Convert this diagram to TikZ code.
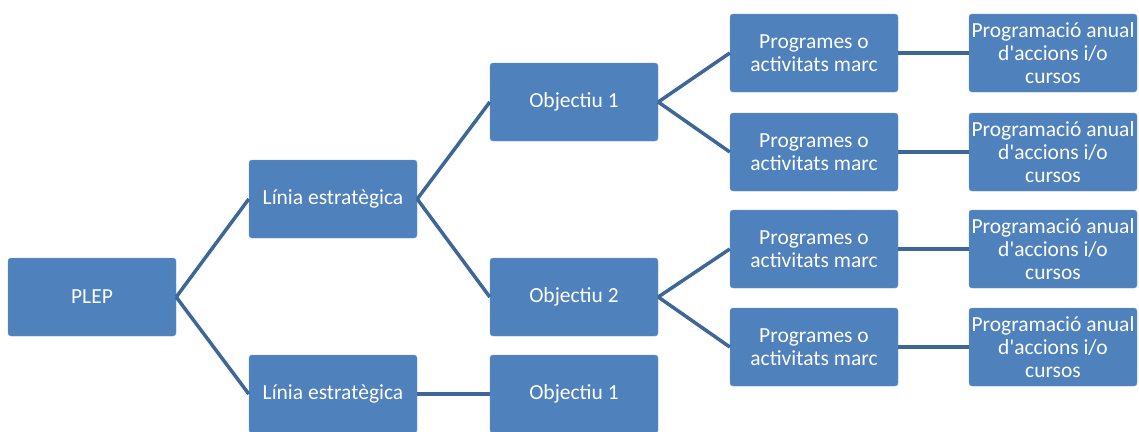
\documentclass[tikz,border=0pt]{standalone}
\usepackage{fontspec}
\setmainfont{Carlito}[Ligatures=TeXOff]
\definecolor{boxblue}{HTML}{4F81BD}
\definecolor{lineblue}{HTML}{3E6698}
\tikzset{
  box/.style = {rectangle, rounded corners = 3pt, fill = boxblue, draw = boxblue!85!white,
    text = white, minimum width = 168pt, minimum height = 78pt, align = center,
    font = \fontsize{21.5}{23}\selectfont, inner sep = 0pt},
  link/.style = {draw = lineblue, line width = 3.5pt}
}
\begin{document}
\begin{tikzpicture}[auto, x = 1pt, y = -1pt]
		\clip (0, 0) rectangle (1139, 431);
		%%%%%%%%%%%%%
		\node[box] (plep) at (92, 297) {PLEP};
		\node[box] (lin1) at (333, 199) {Línia estratègica};
		\node[box] (lin2) at (333, 394) {Línia estratègica};
		\node[box] (obj1) at (574, 102) {Objectiu 1};
		\node[box] (obj2) at (574, 297) {Objectiu 2};
		\node[box] (obj3) at (574, 394) {Objectiu 1};
		%%%%%%%%%%%%%
		\node[box] (prog1) at (814, 53) {Programes o\\activitats marc};
		\node[box] (prog2) at (814, 152) {Programes o\\activitats marc};
		\node[box] (prog3) at (814, 249) {Programes o\\activitats marc};
		\node[box] (prog4) at (814, 347) {Programes o\\activitats marc};
		\node[box] (anual1) at (1053, 53) {Programació anual\\d'accions i/o\\cursos};
		\node[box] (anual2) at (1053, 152) {Programació anual\\d'accions i/o\\cursos};
		\node[box] (anual3) at (1053, 249) {Programació anual\\d'accions i/o\\cursos};
		\node[box] (anual4) at (1053, 347) {Programació anual\\d'accions i/o\\cursos};
		%%%%%%%%%%%%%
		\draw[link] (plep.east) to (lin1.west); \draw[link] (plep.east) to (lin2.west);
		\draw[link] (lin1.east) to (obj1.west); \draw[link] (lin1.east) to (obj2.west);
		\draw[link] (lin2.east) to (obj3.west);
		\draw[link] (obj1.east) to (prog1.west); \draw[link] (obj1.east) to (prog2.west);
		\draw[link] (obj2.east) to (prog3.west); \draw[link] (obj2.east) to (prog4.west);
		\draw[link] (prog1.east) to (anual1.west); \draw[link] (prog2.east) to (anual2.west);
		\draw[link] (prog3.east) to (anual3.west); \draw[link] (prog4.east) to (anual4.west);
\end{tikzpicture}
\end{document}
